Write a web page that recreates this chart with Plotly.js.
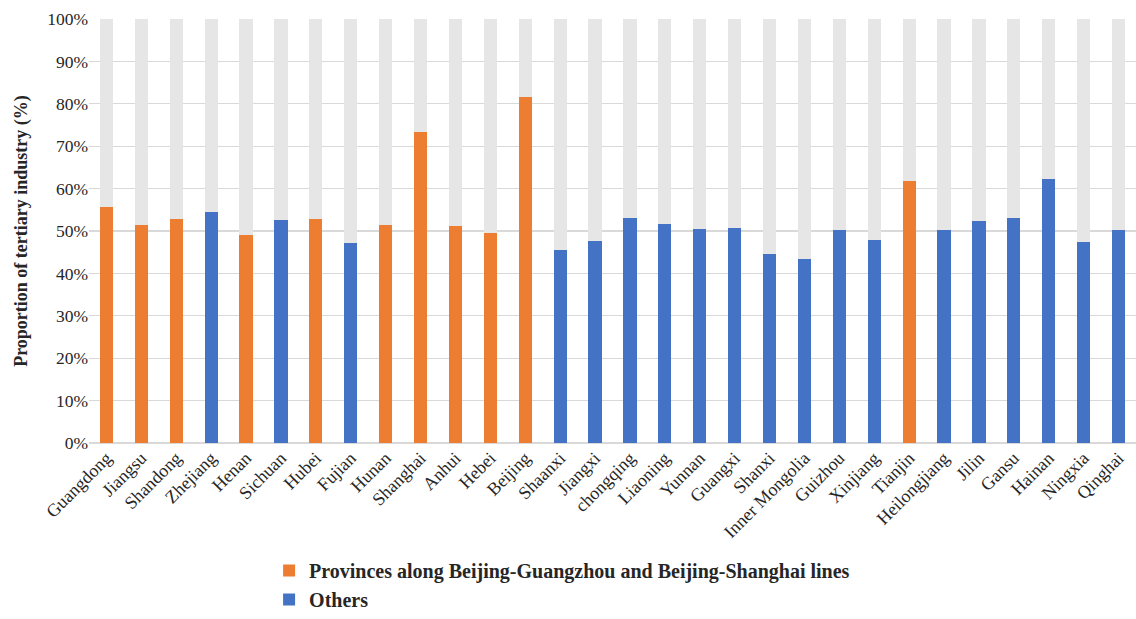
<!DOCTYPE html>
<html>
<head>
<meta charset="utf-8">
<script src="https://cdn.plot.ly/plotly-3.0.1.min.js"></script>
<style>html,body{margin:0;padding:0;background:#fff;}#chart{width:1136px;height:619px;}</style>
</head>
<body>
<div id="chart"></div>
<script>
const provinces = ["Guangdong","Jiangsu","Shandong","Zhejiang","Henan","Sichuan","Hubei","Fujian","Hunan","Shanghai","Anhui","Hebei","Beijing","Shaanxi","Jiangxi","chongqing","Liaoning","Yunnan","Guangxi","Shanxi","Inner Mongolia","Guizhou","Xinjiang","Tianjin","Heilongjiang","Jilin","Gansu","Hainan","Ningxia","Qinghai"];
const tertiaryShare = [55.6,51.3,52.8,54.5,49.1,52.5,52.8,47.1,51.3,73.3,51.2,49.5,81.6,45.6,47.6,53.0,51.7,50.5,50.8,44.5,43.4,50.3,47.9,61.7,50.3,52.3,53.0,62.3,47.5,50.3];
const alongLines = [1,1,1,0,1,0,1,0,1,1,1,1,1,0,0,0,0,0,0,0,0,0,0,1,0,0,0,0,0,0];
const legendNames = ["Provinces along Beijing-Guangzhou and Beijing-Shanghai lines","Others"];

const orangeY = tertiaryShare.map((v,i)=> alongLines[i] ? v : null);
const blueY = tertiaryShare.map((v,i)=> alongLines[i] ? null : v);
const restY = tertiaryShare.map(v => +(100 - v).toFixed(1));

const font = "'Palatino Linotype','Book Antiqua',Palatino,'Liberation Serif',serif";
const traces = [
  {type:'bar', x:provinces, y:orangeY, name:legendNames[0], marker:{color:'#ED7D31'}},
  {type:'bar', x:provinces, y:blueY, name:legendNames[1], marker:{color:'#4472C4'}},
  {type:'bar', x:provinces, y:restY, name:'Rest', showlegend:false, marker:{color:'#E7E6E6'}}
];
const layout = {
  width:1136, height:619,
  barmode:'stack', bargap:0.62,
  margin:{l:89, r:0, t:19, b:175},
  paper_bgcolor:'#fff', plot_bgcolor:'#fff',
  font:{family:font, size:17, color:'#262626'},
  xaxis:{tickangle:-45, tickfont:{size:18}, showgrid:false, showline:false, ticks:'', automargin:false},
  yaxis:{range:[0,100], dtick:10, ticksuffix:'%', gridcolor:'#D9D9D9', gridwidth:1.2, zeroline:true, zerolinecolor:'#D9D9D9', zerolinewidth:1.5, tickfont:{size:17.5}, automargin:false,
         title:{text:'<b>Proportion of tertiary industry (%)</b>', font:{size:18}, standoff:14}},
  legend:{orientation:'v', x:0.172, xanchor:'left', y:-0.255, yanchor:'top', font:{size:20, weight:'bold'}, traceorder:'normal', tracegroupgap:0},
  showlegend:true
};
Plotly.newPlot('chart', traces, layout, {displayModeBar:false, staticPlot:true});
</script>
</body>
</html>
